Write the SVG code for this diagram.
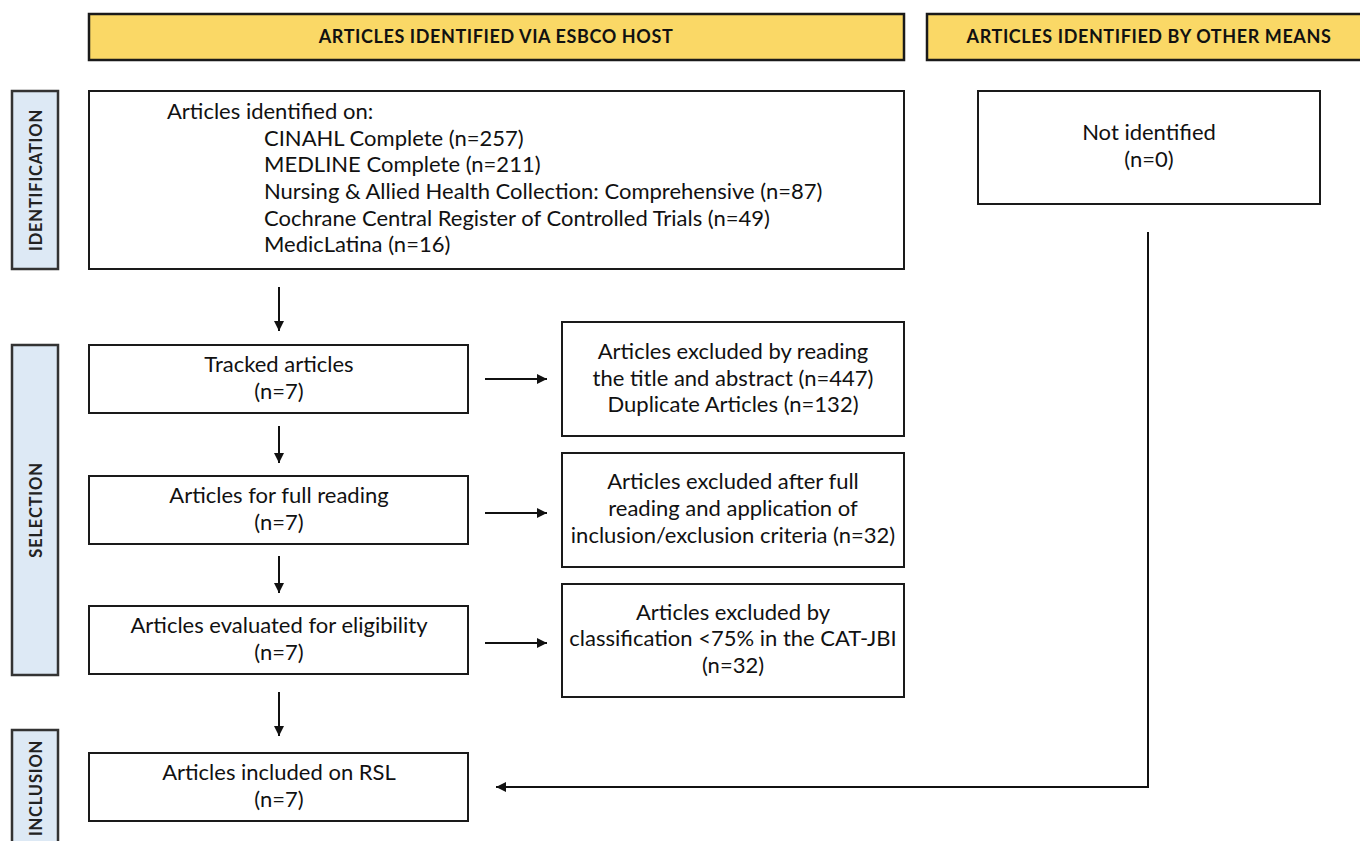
<svg xmlns="http://www.w3.org/2000/svg" width="1360" height="841" viewBox="0 0 1360 841">
<defs>
<style>
.hdr{fill:#FAD866;stroke:#1a1a1a;stroke-width:2.5}
.side{fill:#DDE9F5;stroke:#333;stroke-width:2.5}
.box{fill:#fff;stroke:#1a1a1a;stroke-width:2}
.ht{font-family:Lato,"Liberation Sans",sans-serif;font-weight:bold;font-size:18px;fill:#111;text-anchor:middle;letter-spacing:0.6px}
.st{font-family:Lato,"Liberation Sans",sans-serif;font-weight:bold;font-size:16.5px;fill:#222;text-anchor:middle;letter-spacing:0.8px}
.t{font-family:Lato,"Liberation Sans",sans-serif;font-size:22px;fill:#111;text-anchor:middle}
.tl{font-family:Lato,"Liberation Sans",sans-serif;font-size:22px;fill:#111}
.ln{fill:none;stroke:#111;stroke-width:2}
</style>
<marker id="ah" viewBox="0 0 10 10" refX="10" refY="5" markerWidth="10" markerHeight="10" markerUnits="userSpaceOnUse" orient="auto">
<path d="M0,0 L10,5 L0,10 z" fill="#111"/>
</marker>
</defs>
<rect width="1360" height="841" fill="#fff"/>

<g id="header-esbco">
<rect class="hdr" x="89" y="14" width="815" height="46"/>
<text class="ht" x="496" y="43">ARTICLES IDENTIFIED VIA ESBCO HOST</text>
</g>
<g id="header-other">
<rect class="hdr" x="927" y="14" width="440" height="46"/>
<text class="ht" x="1149" y="43">ARTICLES IDENTIFIED BY OTHER MEANS</text>
</g>

<g id="side-identification">
<rect class="side" x="12" y="91" width="46" height="178"/>
<text class="st" transform="translate(42,180) rotate(-90)">IDENTIFICATION</text>
</g>
<g id="side-selection">
<rect class="side" x="12" y="345" width="46" height="330"/>
<text class="st" transform="translate(42,510) rotate(-90)">SELECTION</text>
</g>
<g id="side-inclusion">
<rect class="side" x="12" y="730" width="46" height="120"/>
<text class="st" transform="translate(42,788) rotate(-90)">INCLUSION</text>
</g>

<g id="identified">
<rect class="box" x="89" y="91" width="815" height="178"/>
<text class="tl" x="167" y="119">Articles identified on:</text>
<text class="tl" x="264" y="146">CINAHL Complete (n=257)</text>
<text class="tl" x="264" y="172">MEDLINE Complete (n=211)</text>
<text class="tl" x="264" y="199">Nursing &amp; Allied Health Collection: Comprehensive (n=87)</text>
<text class="tl" x="264" y="226">Cochrane Central Register of Controlled Trials (n=49)</text>
<text class="tl" x="264" y="252">MedicLatina (n=16)</text>
</g>

<g id="not-identified">
<rect class="box" x="978" y="91" width="342" height="113"/>
<text class="t" x="1149" y="140">Not identified</text>
<text class="t" x="1149" y="167">(n=0)</text>
</g>

<g id="tracked">
<rect class="box" x="89" y="345" width="379" height="68"/>
<text class="t" x="279" y="372">Tracked articles</text>
<text class="t" x="279" y="399">(n=7)</text>
</g>
<g id="excluded-title">
<rect class="box" x="562" y="322" width="342" height="114"/>
<text class="t" x="733" y="359">Articles excluded by reading</text>
<text class="t" x="733" y="386">the title and abstract (n=447)</text>
<text class="t" x="733" y="412">Duplicate Articles (n=132)</text>
</g>

<g id="full-reading">
<rect class="box" x="89" y="476" width="379" height="68"/>
<text class="t" x="279" y="503">Articles for full reading</text>
<text class="t" x="279" y="530">(n=7)</text>
</g>
<g id="excluded-full">
<rect class="box" x="562" y="453" width="342" height="114"/>
<text class="t" x="733" y="489">Articles excluded after full</text>
<text class="t" x="733" y="516">reading and application of</text>
<text class="t" x="733" y="543">inclusion/exclusion criteria (n=32)</text>
</g>

<g id="eligibility">
<rect class="box" x="89" y="606" width="379" height="68"/>
<text class="t" x="279" y="633">Articles evaluated for eligibility</text>
<text class="t" x="279" y="660">(n=7)</text>
</g>
<g id="excluded-cat">
<rect class="box" x="562" y="584" width="342" height="113"/>
<text class="t" x="733" y="620">Articles excluded by</text>
<text class="t" x="733" y="646">classification &lt;75% in the CAT-JBI</text>
<text class="t" x="733" y="673">(n=32)</text>
</g>

<g id="included">
<rect class="box" x="89" y="753" width="379" height="68"/>
<text class="t" x="279" y="780">Articles included on RSL</text>
<text class="t" x="279" y="807">(n=7)</text>
</g>

<g id="connectors">
<line class="ln" x1="279" y1="287" x2="279" y2="331" marker-end="url(#ah)"/>
<line class="ln" x1="279" y1="426" x2="279" y2="463" marker-end="url(#ah)"/>
<line class="ln" x1="279" y1="556" x2="279" y2="593" marker-end="url(#ah)"/>
<line class="ln" x1="279" y1="692" x2="279" y2="736" marker-end="url(#ah)"/>
<line class="ln" x1="485" y1="379" x2="547" y2="379" marker-end="url(#ah)"/>
<line class="ln" x1="485" y1="513" x2="547" y2="513" marker-end="url(#ah)"/>
<line class="ln" x1="485" y1="643" x2="547" y2="643" marker-end="url(#ah)"/>
<polyline class="ln" points="1148,232 1148,787 496,787" marker-end="url(#ah)"/>
</g>
</svg>
